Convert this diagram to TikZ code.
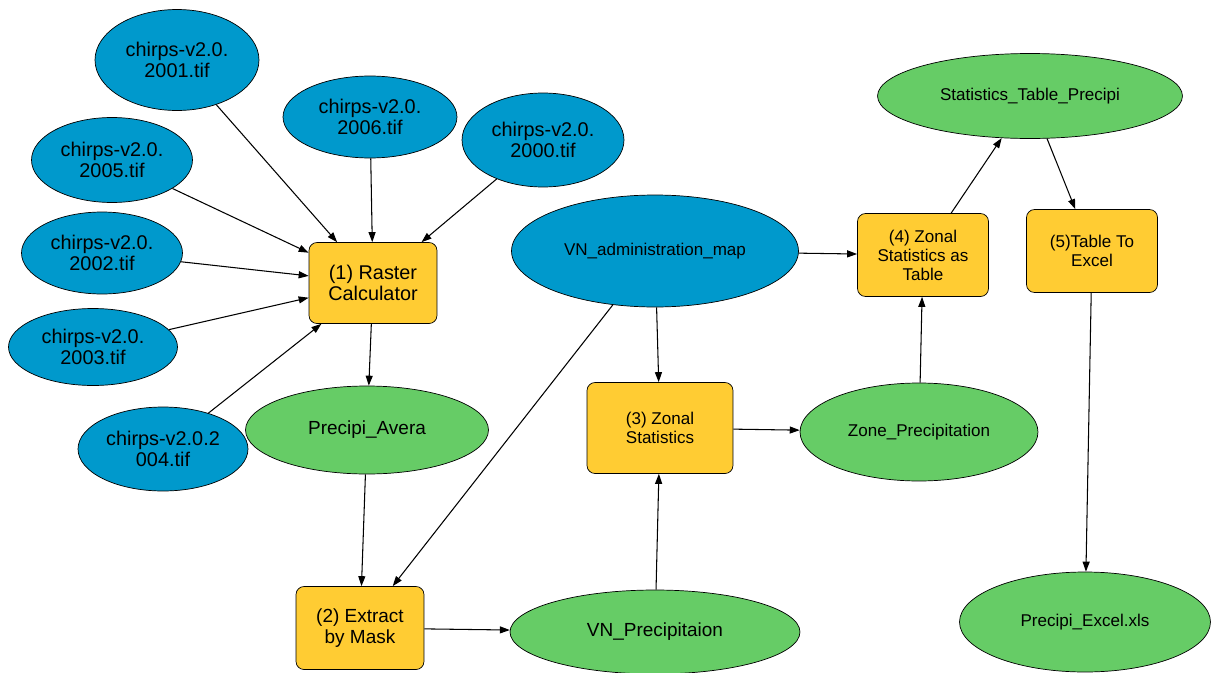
\documentclass[tikz,border=0pt]{standalone}
\usepackage{fontspec}
\setmainfont{Liberation Sans}
\usetikzlibrary{shapes.geometric, arrows.meta}
\definecolor{inblue}{RGB}{0,153,204}
\definecolor{outgreen}{RGB}{102,204,102}
\definecolor{toolyellow}{RGB}{255,204,51}
\tikzset{
  input/.style={ellipse, draw, thin, fill=inblue, inner sep=0pt, align=center},
  output/.style={ellipse, draw, thin, fill=outgreen, inner sep=0pt, align=center},
  tool/.style={rectangle, rounded corners=1.6mm, draw, thin, fill=toolyellow, inner sep=0pt, align=center},
  bigtext/.style={font=\fontsize{11.3}{12}\selectfont},
  midtext/.style={font=\fontsize{10.8}{12}\selectfont},
  smalltext/.style={font=\fontsize{9.7}{10.8}\selectfont},
  flow/.style={-{Triangle[length=2mm, width=1.4mm]}, semithick},
}

\begin{document}
\begin{tikzpicture}[x=0.02cm, y=-0.02cm]
  \useasboundingbox (0,0) rectangle (1211,673);
  % rasters
  \node[input, bigtext, minimum width=3.28cm, minimum height=2.02cm] (r2001) at (177,60) {chirps-v2.0.\\2001.tif};
  \node[input, bigtext, minimum width=3.48cm, minimum height=1.64cm] (r2006) at (370,117) {chirps-v2.0.\\2006.tif};
  \node[input, bigtext, minimum width=3.24cm, minimum height=1.88cm] (r2000) at (543,140) {chirps-v2.0.\\2000.tif};
  \node[input, bigtext, minimum width=3.22cm, minimum height=1.70cm] (r2005) at (112,160) {chirps-v2.0.\\2005.tif};
  \node[input, bigtext, minimum width=3.22cm, minimum height=1.64cm] (r2002) at (102,253) {chirps-v2.0.\\2002.tif};
  \node[input, bigtext, minimum width=3.38cm, minimum height=1.54cm] (r2003) at (93,347) {chirps-v2.0.\\2003.tif};
  \node[input, bigtext, minimum width=3.40cm, minimum height=1.68cm] (r2004) at (163,449) {chirps-v2.0.2\\004.tif};
  \node[input, smalltext, minimum width=5.74cm, minimum height=2.24cm] (admin) at (655,251) {VN\_administration\_map};
  % tools
  \node[tool, bigtext, minimum width=2.56cm, minimum height=1.62cm] (raster) at (373,283) {(1) Raster\\Calculator};
  \node[tool, midtext, minimum width=2.56cm, minimum height=1.66cm] (extract) at (360,628) {(2) Extract\\by Mask};
  \node[tool, smalltext, minimum width=2.92cm, minimum height=1.82cm] (zonal) at (660,428) {(3) Zonal\\Statistics};
  \node[tool, smalltext, minimum width=2.62cm, minimum height=1.66cm] (zonaltab) at (923,255) {(4) Zonal\\Statistics as\\Table};
  \node[tool, smalltext, minimum width=2.62cm, minimum height=1.66cm] (toexcel) at (1092,251) {(5)Table To\\Excel};
  % outputs
  \node[output, midtext, minimum width=4.86cm, minimum height=1.76cm] (avera) at (367,430) {Precipi\_Avera};
  \node[output, midtext, minimum width=5.80cm, minimum height=1.68cm] (vnprec) at (655,632) {VN\_Precipitaion};
  \node[output, smalltext, minimum width=4.76cm, minimum height=1.96cm] (zoneprec) at (919,432) {Zone\_Precipitation};
  \node[output, smalltext, minimum width=6.10cm, minimum height=1.70cm] (stattab) at (1030,96) {Statistics\_Table\_Precipi};
  \node[output, smalltext, minimum width=5.02cm, minimum height=2.00cm] (xls) at (1085,622) {Precipi\_Excel.xls};
  % connectors
  \foreach \src in {r2001, r2006, r2000, r2005, r2002, r2003, r2004}
    \draw[flow] (\src) -- (raster);
  \draw[flow] (raster) -- (avera);
  \draw[flow] (avera) -- (extract);
  \draw[flow] (admin) -- (extract);
  \draw[flow] (admin) -- (zonal);
  \draw[flow] (admin) -- (zonaltab);
  \draw[flow] (extract) -- (vnprec);
  \draw[flow] (vnprec) -- (zonal);
  \draw[flow] (zonal) -- (zoneprec);
  \draw[flow] (zoneprec) -- (zonaltab);
  \draw[flow] (zonaltab) -- (stattab);
  \draw[flow] (stattab) -- (toexcel);
  \draw[flow] (toexcel) -- (xls);
\end{tikzpicture}
\end{document}
